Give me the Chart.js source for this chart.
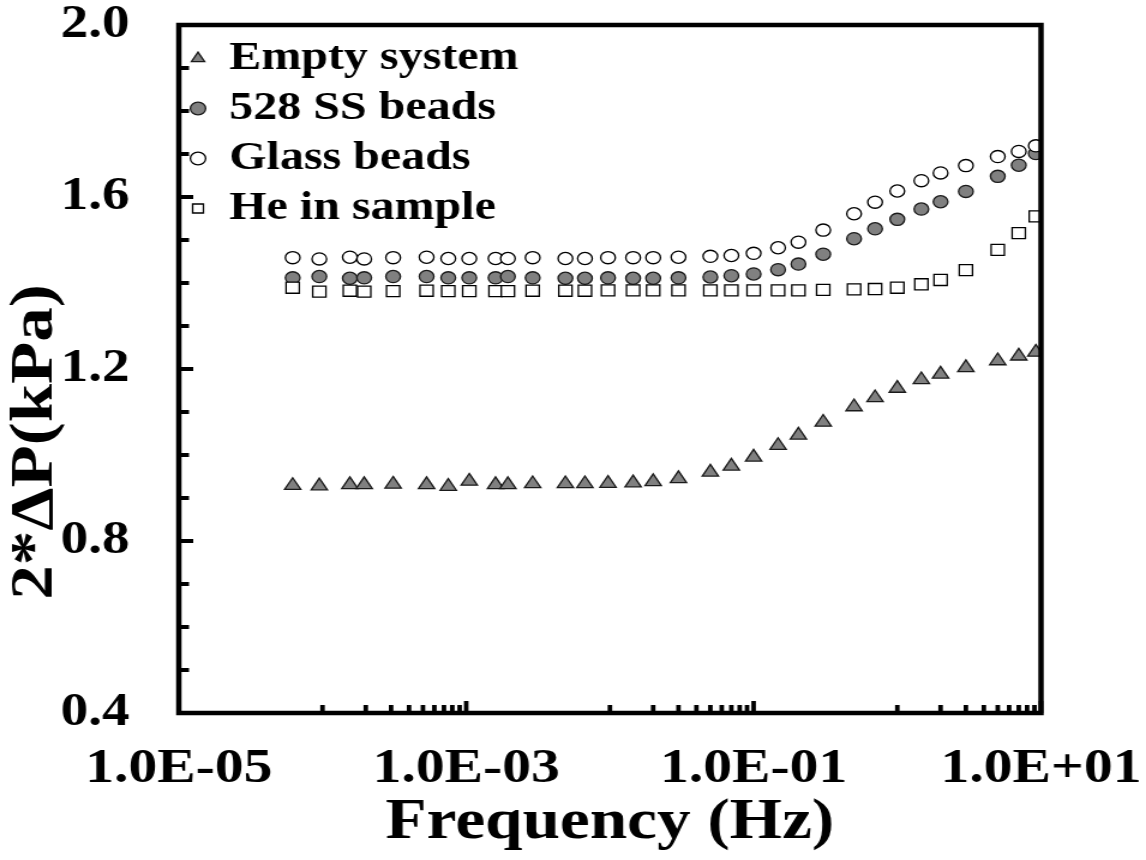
<!DOCTYPE html>
<html>
<head>
<meta charset="utf-8">
<script src="https://cdn.jsdelivr.net/npm/chart.js@4.4.1/dist/chart.umd.min.js"></script>
<style>
  html, body { margin: 0; padding: 0; background: #fff; overflow: hidden; }
  /* the figure is drawn narrow and widened, like the exported plot */
  #wrap { width: 955px; height: 860px; transform: scaleX(1.2); transform-origin: 0 0; }
</style>
</head>
<body>
<div id="wrap"><canvas id="chart" width="955" height="860"></canvas></div>
<script>
// ---------- Data ----------
const freqHz = [6.2e-5, 9.5e-5, 1.55e-4, 1.95e-4, 3.1e-4, 5.3e-4, 7.5e-4, 1.05e-3, 1.6e-3, 1.95e-3,
  2.9e-3, 4.9e-3, 6.7e-3, 9.7e-3, 0.0145, 0.02, 0.03, 0.05, 0.07, 0.1,
  0.148, 0.205, 0.305, 0.5, 0.7, 1.0, 1.47, 2.0, 3.0, 5.0, 7.0, 9.2];

const emptySystem = [0.929, 0.928, 0.931, 0.931, 0.932, 0.931, 0.927, 0.939, 0.931, 0.931,
  0.933, 0.933, 0.933, 0.934, 0.935, 0.938, 0.945, 0.960, 0.974, 0.995,
  1.022, 1.046, 1.076, 1.112, 1.133, 1.155, 1.175, 1.188, 1.203, 1.219, 1.230, 1.239];

const ssBeads = [1.412, 1.415, 1.411, 1.412, 1.415, 1.415, 1.412, 1.412, 1.412, 1.415,
  1.412, 1.411, 1.411, 1.412, 1.411, 1.411, 1.412, 1.414, 1.417, 1.421,
  1.431, 1.444, 1.467, 1.503, 1.526, 1.548, 1.572, 1.589, 1.613, 1.648, 1.674, 1.701];

const glassBeads = [1.459, 1.456, 1.460, 1.456, 1.459, 1.460, 1.457, 1.457, 1.457, 1.457,
  1.459, 1.457, 1.457, 1.459, 1.459, 1.459, 1.460, 1.462, 1.464, 1.469,
  1.482, 1.495, 1.523, 1.561, 1.588, 1.614, 1.638, 1.656, 1.673, 1.694, 1.706, 1.719];

const heSample = [1.389, 1.380, 1.382, 1.380, 1.381, 1.382, 1.381, 1.381, 1.381, 1.381,
  1.382, 1.382, 1.382, 1.383, 1.383, 1.383, 1.383, 1.383, 1.383, 1.383,
  1.383, 1.383, 1.384, 1.385, 1.386, 1.389, 1.397, 1.407, 1.430, 1.477, 1.516, 1.555];

const seriesNames = ['Empty system', '528 SS beads', 'Glass beads', 'He in sample'];

const xLabelTicks = [1e-5, 1e-3, 1e-1, 1e1];
const xTickLabels = ['1.0E-05', '1.0E-03', '1.0E-01', '1.0E+01'];
const xMinorDecades = [1e-4, 1e-2, 1e0];
const yLabelTicks = [0.4, 0.8, 1.2, 1.6, 2.0];

const xAxisTitle = 'Frequency (Hz)';
const yAxisTitle = '2*ΔP(kPa)';

// ---------- Helpers ----------
const FONT = '"Liberation Serif", "Times New Roman", serif';
const toPoints = ys => freqHz.map((f, i) => ({ x: f, y: ys[i] }));
const xLabelIndex = v => xLabelTicks.findIndex(t => Math.abs(Math.log10(t) - Math.log10(v)) < 1e-6);
const isYLabel = v => yLabelTicks.some(t => Math.abs(t - v) < 1e-6);

// labelled decades plus 1..9 marks in every other decade
const xTickValues = [...xLabelTicks];
xMinorDecades.forEach(d => { for (let m = 1; m < 10; m++) xTickValues.push(d * m); });
xTickValues.sort((a, b) => a - b);

// frame round the plot and inward tick marks
const frameAndTicks = {
  id: 'frameAndTicks',
  afterDraw(chart) {
    const { ctx, chartArea: a, scales: { x, y } } = chart;
    ctx.save();
    ctx.strokeStyle = '#000';
    ctx.lineWidth = 4;
    y.ticks.forEach(t => {
      const py = y.getPixelForValue(t.value);
      const len = isYLabel(t.value) ? 12 : 8.5;
      ctx.beginPath();
      ctx.moveTo(a.left, py);
      ctx.lineTo(a.left + len, py);
      ctx.stroke();
    });
    ctx.lineWidth = 3.8;
    x.ticks.forEach(t => {
      const px = x.getPixelForValue(t.value);
      const len = xLabelIndex(t.value) >= 0 ? 12 : 8;
      ctx.beginPath();
      ctx.moveTo(px, a.bottom);
      ctx.lineTo(px, a.bottom - len);
      ctx.stroke();
    });
    ctx.lineWidth = 4.5;
    ctx.strokeRect(a.left, a.top, a.right - a.left, a.bottom - a.top);
    ctx.restore();
  }
};

// rotated y title, set a little below the axis middle and drawn long and thin
const yTitle = {
  id: 'yTitle',
  afterDraw(chart) {
    const { ctx } = chart;
    ctx.save();
    ctx.translate(30, 442);
    ctx.rotate(-Math.PI / 2);
    ctx.scale(1.19, 0.87);
    ctx.font = `bold 58px ${FONT}`;
    ctx.fillStyle = '#000';
    ctx.textAlign = 'center';
    ctx.textBaseline = 'middle';
    ctx.fillText(yAxisTitle, 0, 0);
    ctx.restore();
  }
};

const markerBase = { showLine: false, pointBorderWidth: 1.3, pointHoverRadius: 0 };

new Chart(document.getElementById('chart'), {
  type: 'scatter',
  data: {
    datasets: [
      { ...markerBase, label: seriesNames[0], data: toPoints(emptySystem), order: 4,
        pointStyle: 'triangle', pointRadius: 7.8, backgroundColor: '#808080', borderColor: '#1a1a1a' },
      { ...markerBase, label: seriesNames[1], data: toPoints(ssBeads), order: 3,
        pointStyle: 'circle', pointRadius: 6.1, backgroundColor: '#808080', borderColor: '#1a1a1a' },
      { ...markerBase, label: seriesNames[2], data: toPoints(glassBeads), order: 2,
        pointStyle: 'circle', pointRadius: 6.1, backgroundColor: '#ffffff', borderColor: '#000000' },
      { ...markerBase, label: seriesNames[3], data: toPoints(heSample), order: 1,
        pointStyle: 'rect', pointRadius: 7.8, backgroundColor: '#ffffff', borderColor: '#000000' },
    ],
  },
  options: {
    responsive: false,
    animation: false,
    events: [],
    layout: { padding: { left: 0, right: 87.5, top: 25, bottom: 0 } },
    scales: {
      x: {
        type: 'logarithmic',
        min: 1e-5,
        max: 10,
        afterBuildTicks: s => { s.ticks = xTickValues.map(v => ({ value: v })); },
        afterFit: s => { s.height = 147; },
        // hidden tick length only spaces the labels; marks are drawn by frameAndTicks
        grid: { display: false, drawTicks: true, tickLength: 28 },
        border: { display: false },
        ticks: {
          autoSkip: false,
          maxRotation: 0,
          padding: 0,
          color: '#000',
          font: { family: FONT, size: 48, weight: 'bold' },
          callback: v => (xLabelIndex(v) >= 0 ? xTickLabels[xLabelIndex(v)] : ''),
        },
        title: {
          display: true,
          text: xAxisTitle,
          color: '#000',
          font: { family: FONT, size: 56, weight: 'bold' },
          padding: { top: 0, bottom: 3 },
        },
      },
      y: {
        min: 0.4,
        max: 2.0,
        afterFit: s => { s.width = 149; },
        grid: { display: false, drawTicks: true, tickLength: 41 },
        border: { display: false },
        ticks: {
          stepSize: 0.1,
          autoSkip: false,
          padding: 0,
          color: '#000',
          font: { family: FONT, size: 46, weight: 'bold', lineHeight: 1 },
          callback: v => (isYLabel(v) ? v.toFixed(1) : ''),
        },
      },
    },
    plugins: {
      tooltip: { enabled: false },
      legend: {
        position: 'chartArea',
        align: 'start',
        // blank title pushes the entries down from the canvas top
        title: { display: true, text: '', padding: 0, font: { size: 28.5, lineHeight: 1 } },
        labels: {
          usePointStyle: true,
          boxWidth: 12,
          boxHeight: 9,
          padding: 10,
          color: '#000',
          font: { family: FONT, size: 40, weight: 'bold' },
          sort: (a, b) => a.datasetIndex - b.datasetIndex,
        },
      },
    },
  },
  plugins: [frameAndTicks, yTitle],
});
</script>
</body>
</html>
